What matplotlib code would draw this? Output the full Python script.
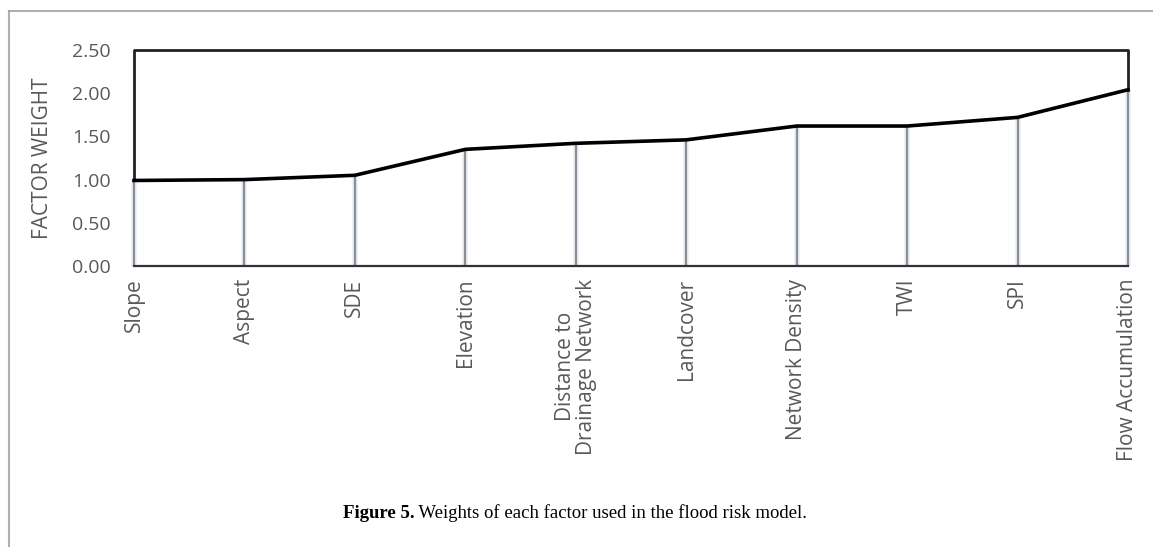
import matplotlib
matplotlib.use("Agg")
import matplotlib.pyplot as plt
from matplotlib.lines import Line2D

# data
factors = ["Slope", "Aspect", "SDE", "Elevation", "Distance to\nDrainage Network",
           "Landcover", "Network Density", "TWI", "SPI", "Flow Accumulation"]
weights = [0.99, 1.00, 1.05, 1.35, 1.42, 1.46, 1.62, 1.62, 1.72, 2.04]
y_ticks = [0.0, 0.5, 1.0, 1.5, 2.0, 2.5]
y_max = 2.5

gray_txt = "#595959"
W, H = 1153, 547
fig = plt.figure(figsize=(W / 100, H / 100), dpi=100)
ax = fig.add_axes([0.1162, 0.5137, 0.8621, 0.3949])

x = list(range(len(factors)))

# drop lines with a faint blue halo
ax.vlines(x, 0, weights, color="#e8eff7", lw=4, zorder=1, clip_on=False)
ax.vlines(x, 0, weights, color="#8a8d92", lw=1.6, zorder=2, clip_on=False)

# outline of the upper area (data line up to the 2.50 ceiling)
ax.plot(x, weights, color="black", lw=2.6, zorder=4, clip_on=False)
ax.plot([x[0], x[0], x[-1], x[-1]], [weights[0], y_max, y_max, weights[-1]],
        color="#222222", lw=2, zorder=3, clip_on=False)
ax.plot([x[0], x[-1]], [0, 0], color="#333333", lw=1.6, zorder=3, clip_on=False)

ax.set_xlim(x[0], x[-1])
ax.set_ylim(0, y_max)
for s in ax.spines.values():
    s.set_visible(False)

ax.set_yticks(y_ticks)
ax.set_yticklabels(["%.2f" % v for v in y_ticks], color=gray_txt,
                   fontsize=14, family="Open Sans")
ax.tick_params(axis="y", length=0, pad=17)
ax.set_xticks(x)
ax.set_xticklabels(factors, rotation=90, color=gray_txt, fontsize=15,
                   family="Open Sans", va="top", ha="center", linespacing=1.0)
ax.tick_params(axis="x", length=0, pad=9)
ax.set_ylabel("FACTOR WEIGHT", color=gray_txt, fontsize=15, family="Open Sans")
ax.yaxis.set_label_coords(-0.081, 0.5)

# page frame lines
fig.add_artist(Line2D([8.5 / W, 8.5 / W], [0, 1 - 11 / H], color="#b0b0b0", lw=1.5))
fig.add_artist(Line2D([8.5 / W, 1], [1 - 11 / H, 1 - 11 / H], color="#a0a0a0", lw=1.2))

# caption: bold lead-in plus regular text, centred as a whole
cy = 1 - 513 / H
t1 = fig.text(0, cy, "Figure 5.", fontsize=13.5, family="Liberation Serif",
              fontweight="bold", ha="left", va="center")
t2 = fig.text(0, cy, " Weights of each factor used in the flood risk model.",
              fontsize=13.5, family="Liberation Serif", ha="left", va="center")
fig.canvas.draw()
r = fig.canvas.get_renderer()
w1 = t1.get_window_extent(r).width
w2 = t2.get_window_extent(r).width
x0 = 575 - (w1 + w2) / 2
t1.set_x(x0 / W)
t2.set_x((x0 + w1) / W)

fig.savefig("out.png", dpi=100)
